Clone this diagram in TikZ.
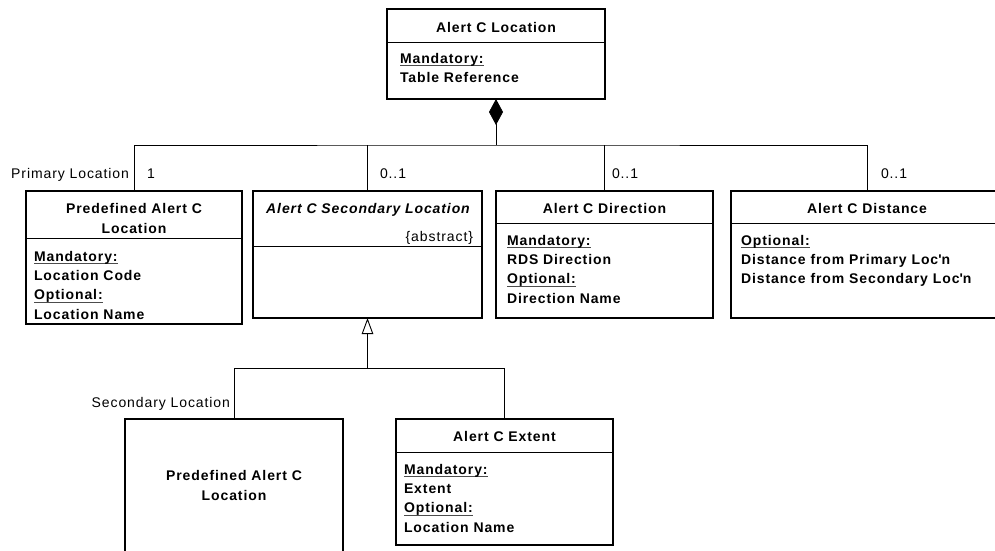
\documentclass[tikz,border=0pt]{standalone}
\usepackage{fontspec}
\setmainfont{Liberation Sans}[LetterSpace=6.5]
\usetikzlibrary{arrows.meta}

% compartment heading: text with a thin grey rule a little below the baseline
\newcommand{\compartlabel}[1]{\setbox0\hbox{#1}%
  \rlap{\color{black!70}\rule[-2.6pt]{\wd0}{0.9pt}}\box0}

\begin{document}
\begin{tikzpicture}[x=1pt,y=-1pt,
  every node/.style={inner sep=0pt, outer sep=0pt,
    font=\fontsize{14}{19.3}\selectfont},
  umlbox/.style 2 args={draw, line width=1.3pt, anchor=north west,
    minimum width=#1pt, minimum height=#2pt},
  divider/.style={line width=1pt},
  link/.style={line width=0.8pt},
  % multi-line texts sit on the baseline of their last line
  title/.style={font=\fontsize{14}{20}\selectfont\bfseries, align=center, anchor=base},
  body/.style={font=\fontsize{14}{19.3}\selectfont\bfseries, align=left, anchor=base west},
  role/.style={anchor=base east},
  mult/.style={anchor=base west},
  composite/.style={{Diamond[length=26pt,width=14pt]}-},
  generalize/.style={-{Triangle[open,length=16pt,width=11.5pt]}, line width=0.9pt}
]
\useasboundingbox (0,0) rectangle (995,550);
\clip (0,0) rectangle (995,550);

% ---------- class boxes ----------
\node[umlbox={218}{90}]  (top)  at (387,9)   {};
\node[umlbox={216}{133}] (prim) at (26,191)  {};
\node[umlbox={229}{127}] (sec)  at (253,191) {};
\node[umlbox={217}{127}] (dir)  at (496,191) {};
\node[umlbox={272}{127}] (dist) at (731,191) {};
\node[umlbox={218}{135}] (pre)  at (125,419) {};
\node[umlbox={217}{126}] (ext)  at (396,419) {};

% ---------- compartment dividers ----------
\draw[divider] ([yshift=-33pt]top.north west)  -- ([yshift=-33pt]top.north east);
\draw[divider] ([yshift=-47pt]prim.north west) -- ([yshift=-47pt]prim.north east);
\draw[divider] ([yshift=-55pt]sec.north west)  -- ([yshift=-55pt]sec.north east);
\draw[divider] ([yshift=-32pt]dir.north west)  -- ([yshift=-32pt]dir.north east);
\draw[divider] ([yshift=-32pt]dist.north west) -- ([yshift=-32pt]dist.north east);
\draw[divider] ([yshift=-33pt]ext.north west)  -- ([yshift=-33pt]ext.north east);

% ---------- class texts ----------
\node[title] (topT) at (496,32) {Alert C Location};
\node[body]  (topB) at (400,82.6) {\compartlabel{Mandatory:}\\Table Reference};

\node[title] (primT) at (134,233) {Predefined Alert C\\Location};
\node[body]  (primB) at (34,319.2)
  {\compartlabel{Mandatory:}\\Location Code\\\compartlabel{Optional:}\\Location Name};

\node[title, font=\fontsize{14}{20}\selectfont\bfseries\itshape]
  (secT) at (368,213) {Alert C Secondary Location};
\node[anchor=base east] (secA) at (473,241) {\{abstract\}};

\node[title] (dirT) at (604.5,213) {Alert C Direction};
\node[body]  (dirB) at (507,303.2)
  {\compartlabel{Mandatory:}\\RDS Direction\\\compartlabel{Optional:}\\Direction Name};

\node[title] (distT) at (867,213) {Alert C Distance};
\node[body]  (distB) at (741,283.9)
  {\compartlabel{Optional:}\\Distance from Primary Loc\textquotesingle n\\%
   Distance from Secondary Loc\textquotesingle n};

\node[title] (preT) at (234,500) {Predefined Alert C\\Location};

\node[title] (extT) at (504.5,441) {Alert C Extent};
\node[body]  (extB) at (404,532.2)
  {\compartlabel{Mandatory:}\\Extent\\\compartlabel{Optional:}\\Location Name};

% ---------- aggregation ----------
\coordinate (bus) at (496,145);
\draw[link, composite] (top.south) -- (bus);
\draw[link] (prim.north) |- (bus) -| (dist.north);
\draw[link] (bus -| sec.north) -- (sec.north);
\draw[link] (bus -| dir.north) -- (dir.north);

\node[role] (primR) at (129,178) {Primary Location};
\node[mult] (primM) at (147,178) {1};
\node[mult] (secM)  at (380,178) {0..1};
\node[mult] (dirM)  at (612,178) {0..1};
\node[mult] (distM) at (881,178) {0..1};

% ---------- generalisation ----------
\coordinate (gen) at (367.5,368);
\draw[generalize] (gen) -- (sec.south);
\draw[link] (pre.north) |- (gen) -| (ext.north);

\node[role] (preR) at (230,407) {Secondary Location};
\end{tikzpicture}
\end{document}
